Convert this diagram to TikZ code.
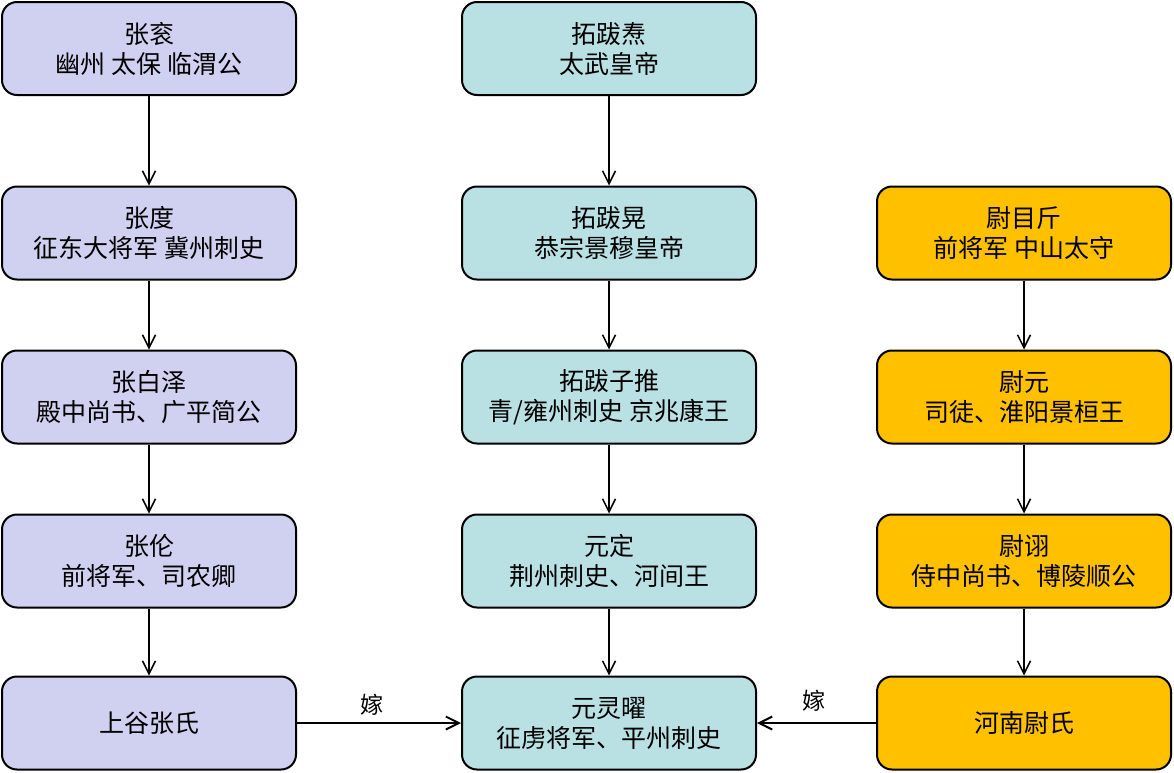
\documentclass[tikz,border=0pt]{standalone}
\usepackage{fontspec}
\setmainfont{Noto Sans CJK SC}
\usetikzlibrary{arrows.meta}
\definecolor{zhang}{RGB}{208,208,240}
\definecolor{tuoba}{RGB}{185,224,227}
\definecolor{wei}{RGB}{255,192,0}
\tikzset{
  person/.style={draw=black, line width=2pt, rounded corners=15pt, minimum width=294pt, minimum height=93pt, align=center, font=\fontsize{25}{30}\selectfont, inner sep=0pt},
  zbox/.style={person, fill=zhang},
  tbox/.style={person, fill=tuoba},
  wbox/.style={person, fill=wei},
  line/.style={-{Straight Barb[length=13pt,width=13pt]}, line width=1.5pt},
  marry/.style={-{Straight Barb[length=13pt,width=13pt]}, line width=2pt},
  lbl/.style={font=\fontsize{23}{26}\selectfont}
}
\begin{document}
\begin{tikzpicture}[x=1pt,y=-1pt]
\useasboundingbox (0,0) rectangle (1174,772);
% left column
\node[zbox] (z1) at (149,48.5) {张衮\\幽州 太保 临渭公};
\node[zbox] (z2) at (149,233) {张度\\征东大将军 冀州刺史};
\node[zbox] (z3) at (149,397) {张白泽\\殿中尚书、广平简公};
\node[zbox] (z4) at (149,561) {张伦\\前将军、司农卿};
\node[zbox] (z5) at (149,723) {上谷张氏};
% middle column
\node[tbox] (t1) at (609,48.5) {拓跋焘\\太武皇帝};
\node[tbox] (t2) at (609,233) {拓跋晃\\恭宗景穆皇帝};
\node[tbox] (t3) at (609,397) {拓跋子推\\青/雍州刺史 京兆康王};
\node[tbox] (t4) at (609,561) {元定\\荆州刺史、河间王};
\node[tbox] (t5) at (609,723) {元灵曜\\征虏将军、平州刺史};
% right column
\node[wbox] (w1) at (1024,233) {尉目斤\\前将军 中山太守};
\node[wbox] (w2) at (1024,397) {尉元\\司徒、淮阳景桓王};
\node[wbox] (w3) at (1024,561) {尉诩\\侍中尚书、博陵顺公};
\node[wbox] (w4) at (1024,723) {河南尉氏};
% connectors
\draw[line] (z1) -- (z2);
\draw[line] (z2) -- (z3);
\draw[line] (z3) -- (z4);
\draw[line] (z4) -- (z5);
\draw[line] (t1) -- (t2);
\draw[line] (t2) -- (t3);
\draw[line] (t3) -- (t4);
\draw[line] (t4) -- (t5);
\draw[line] (w1) -- (w2);
\draw[line] (w2) -- (w3);
\draw[line] (w3) -- (w4);
\draw[marry] (z5) -- node[lbl, above=3pt, pos=0.46] (m1) {嫁} (t5);
\draw[marry] (w4) -- node[lbl, above=7pt, pos=0.52] (m2) {嫁} (t5);
\end{tikzpicture}
\end{document}
